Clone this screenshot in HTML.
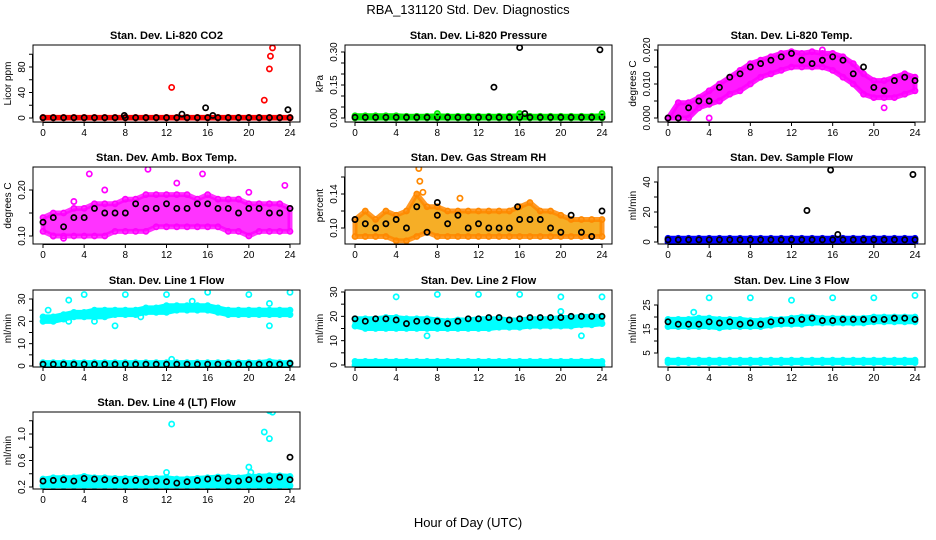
<!DOCTYPE html>
<html><head><meta charset="utf-8"><style>
html,body{margin:0;padding:0;background:#fff;}
svg{display:block;font-family:"Liberation Sans",sans-serif;}
</style></head><body>
<svg id="chart" width="936" height="540" viewBox="0 0 936 540">
<text x="468" y="14" text-anchor="middle" font-size="13">RBA_131120  Std. Dev. Diagnostics</text>
<text x="468" y="527" text-anchor="middle" font-size="13">Hour of Day (UTC)</text>
</svg>
<script>
// ---------- data ----------
const hours = [0,1,2,3,4,5,6,7,8,9,10,11,12,13,14,15,16,17,18,19,20,21,22,23,24];
const xTicks = [0,4,8,12,16,20,24];

// Panel 1: CO2
const co2RedLo = [0,0,0,0,0,0,0,0,0,0,0,0,0,0,0,0,0,0,0,0,0,0,0,0,0];
const co2RedHi = [1,1,1,1,1,1,1,1,1,1,1,1,1,1,1,1,1,1,1,1,1,1,1,1,1];
const co2Black = [0.5,0.5,0.5,0.5,0.5,0.5,0.5,0.5,0.5,0.5,0.5,0.5,0.5,0.5,0.5,0.5,0.5,0.5,0.5,0.5,0.5,0.5,0.5,0.5,0.5];
const co2RedOutX = [12.5,21.5,22,22.1,22.3];
const co2RedOutY = [48,28,77,97,110];
const co2BlkOutX = [7.9,13.5,15.8,16.5,23.8];
const co2BlkOutY = [4,6,16,4,13];

// Panel 2: pressure
const prGreenLo = [0,0,0,0,0,0,0,0,0,0,0,0,0,0,0,0,0,0,0,0,0,0,0,0,0];
const prGreenHi = [0.01,0.01,0.01,0.01,0.01,0.008,0.008,0.008,0.01,0.008,0.008,0.008,0.008,0.008,0.008,0.008,0.01,0.008,0.008,0.008,0.008,0.008,0.008,0.008,0.01];
const prBlack = [0.003,0.003,0.003,0.003,0.003,0.003,0.003,0.003,0.003,0.003,0.003,0.003,0.003,0.003,0.003,0.003,0.003,0.003,0.003,0.003,0.003,0.003,0.003,0.003,0.003];
const prGreenOutX = [8,16,24];
const prGreenOutY = [0.02,0.02,0.02];
const prBlkOutX = [13.5,16,16.5,23.8];
const prBlkOutY = [0.14,0.32,0.02,0.31];

// Panel 3: Li-820 temp
const tmpLo = [0,0,0,0.003,0.004,0.005,0.007,0.008,0.010,0.012,0.013,0.014,0.015,0.015,0.015,0.015,0.014,0.012,0.010,0.007,0.006,0.006,0.006,0.007,0.008];
const tmpHi = [0,0.0045,0.0045,0.006,0.008,0.010,0.012,0.014,0.016,0.017,0.018,0.019,0.0195,0.019,0.0195,0.019,0.019,0.018,0.016,0.013,0.011,0.011,0.012,0.013,0.012];
const tmpBlack = [0,0,0.003,0.005,0.005,0.009,0.012,0.013,0.015,0.016,0.017,0.018,0.019,0.017,0.016,0.017,0.018,0.017,0.013,0.015,0.009,0.008,0.011,0.012,0.011];
const tmpOutX = [4,5,21,15];
const tmpOutY = [0,0.005,0.003,0.020];

// Panel 4: amb box temp
const ambLo = [0.11,0.10,0.10,0.10,0.10,0.10,0.10,0.11,0.11,0.11,0.11,0.12,0.12,0.12,0.12,0.12,0.12,0.12,0.11,0.11,0.10,0.11,0.11,0.11,0.11];
const ambHi = [0.14,0.15,0.15,0.16,0.16,0.17,0.17,0.17,0.18,0.18,0.19,0.19,0.19,0.19,0.19,0.18,0.19,0.18,0.18,0.18,0.17,0.17,0.17,0.17,0.16];
const ambBlack = [0.13,0.14,0.12,0.14,0.14,0.16,0.15,0.15,0.15,0.17,0.16,0.16,0.17,0.16,0.16,0.17,0.17,0.16,0.16,0.15,0.16,0.16,0.15,0.15,0.16];
const ambOutX = [2,4.5,10.2,15.5,23.5,1,3,20,6,13];
const ambOutY = [0.095,0.235,0.245,0.235,0.21,0.10,0.175,0.195,0.2,0.215];

// Panel 5: gas stream RH
const rhLo = [0.09,0.09,0.09,0.09,0.085,0.085,0.09,0.095,0.09,0.09,0.09,0.09,0.09,0.09,0.09,0.09,0.09,0.09,0.09,0.09,0.09,0.09,0.09,0.09,0.09];
const rhHi = [0.11,0.12,0.11,0.12,0.115,0.12,0.14,0.125,0.125,0.12,0.12,0.12,0.12,0.12,0.12,0.12,0.125,0.13,0.12,0.12,0.115,0.11,0.11,0.11,0.11];
const rhBlack = [0.11,0.105,0.10,0.105,0.11,0.10,0.125,0.095,0.115,0.105,0.115,0.10,0.105,0.10,0.10,0.10,0.11,0.11,0.11,0.10,0.095,0.115,0.095,0.09,0.12];
const rhOutX = [6.2,6.3,6.6,10.2];
const rhOutY = [0.17,0.155,0.142,0.135];
const rhBlkOutX = [8,15.8];
const rhBlkOutY = [0.13,0.125];

// Panel 6: sample flow
const sfLo = [0,0,0,0,0,0,0,0,0,0,0,0,0,0,0,0,0,0,0,0,0,0,0,0,0];
const sfHi = [2.5,2.5,2.5,2.5,2.5,2.5,2.5,2.5,2.5,2.5,2.5,2.5,2.5,2.5,2.5,2.5,2.5,2.5,2.5,2.5,2.5,2.5,2.5,2.5,2.5];
const sfBlack = [1.5,1.5,1.5,1.5,1.5,1.5,1.5,1.5,1.5,1.5,1.5,1.5,1.5,1.5,1.5,1.5,1.5,1.5,1.5,1.5,1.5,1.5,1.5,1.5,1.5];
const sfBlkOutX = [13.5,15.8,16.5,23.8];
const sfBlkOutY = [21,48,5,45];

// Panel 7: line 1 flow
const l1Lo = [20,20,21,22,22,22,22,23,23,23,24,24,24,25,25,25,25,24,23,23,23,23,23,23,23];
const l1Hi = [22,22,23,24,24,25,25,25,25,25,26,26,27,27,27,27,27,26,25,25,25,25,25,25,25];
const l1LowLo = [0,0,0,0,0,0,0,0,0,0,0,0,0,0,0,0,0,0,0,0,0,0,0,0,0];
const l1LowHi = [1.5,1.5,1.5,1.5,1.5,1.5,1.5,1.5,1.5,1.5,1.5,1.5,1.5,1.5,1.5,1.5,1.5,1.5,1.5,1.5,1.5,1.5,2,1.5,1.5];
const l1Black = [0.8,0.8,0.8,0.8,0.8,0.8,0.8,0.8,0.8,0.8,0.8,0.8,0.8,0.8,0.8,0.8,0.8,0.8,0.8,0.8,0.8,0.8,0.8,0.8,1.2];
const l1OutX = [0.5,2.5,2.5,4,5,7,8,12,12.5,16,20,22,22,24,9.5,14.5];
const l1OutY = [25,29.5,20,32,20,18,32,32,3,33,32,28,18,33,22,29];

// Panel 8: line 2 flow
const l2Lo = [16,15,15,15,15,15,15,15,15,15,15,15,15,15,15.5,15.5,15.5,16,16,16,16,16,16.5,16.5,17];
const l2Hi = [19,19,19,19.5,19.5,19,19,19,18.5,18,18.5,18.5,19,19,19,18.5,18.5,19,19,19,19.5,19.5,20,20,20];
const l2LowLo = [0,0,0,0,0,0,0,0,0,0,0,0,0,0,0,0,0,0,0,0,0,0,0,0,0];
const l2LowHi = [1.5,1.5,1.5,1.5,1.5,1.5,1.5,1.5,1.5,1.5,1.5,1.5,1.5,1.5,1.5,1.5,1.5,1.5,1.5,1.5,1.5,1.5,1.5,1.5,1.5];
const l2Black = [19,18,19,19,18.5,17,18,18,18,17,18,19,19,19.5,19.5,18.5,19,19.5,19.5,19.5,19.5,20,20,20,20];
const l2OutX = [4,8,12,16,20,24,7,22,20];
const l2OutY = [28,29,29,29,28,28,12,12,22];

// Panel 9: line 3 flow
const l3Lo = [16,16,16,16,16,15.5,16,16,16,16,16.5,17,17,17,17.5,17.5,17.5,17.5,17.5,17.5,18,18,18,18,18];
const l3Hi = [19,19,19,19.5,19.5,19,19,19,18.5,18.5,19,19,19.5,20,20,19.5,19.5,19.5,19.5,19.5,20,20,20,20,20];
const l3LowLo = [1,1,1,1,1,1,1,1,1,1,1,1,1,1,1,1,1,1,1,1,1,1,1,1,1];
const l3LowHi = [2,2,2,2,2,2,2,2,2,2,2,2,2,2,2,2,2,2,2,2,2,2,2,2,2];
const l3Black = [18,17,17,17,18,17.5,18,17,17.5,17,18,18.5,18.5,19,19.5,18.5,18.5,19,19,19,19,19,19.5,19.5,19];
const l3OutX = [4,8,12,16,20,24,2.5];
const l3OutY = [28,28,27,28,28,29,22];

// Panel 10: line 4 (LT) flow
const l4Lo = [0.22,0.22,0.22,0.22,0.22,0.22,0.22,0.22,0.22,0.22,0.22,0.22,0.22,0.22,0.22,0.22,0.22,0.22,0.22,0.22,0.22,0.22,0.22,0.22,0.22];
const l4Hi = [0.32,0.34,0.34,0.34,0.36,0.34,0.34,0.33,0.33,0.33,0.33,0.33,0.34,0.32,0.32,0.33,0.34,0.35,0.35,0.34,0.36,0.36,0.37,0.37,0.36];
const l4Black = [0.29,0.3,0.31,0.29,0.33,0.32,0.31,0.3,0.29,0.3,0.28,0.29,0.28,0.26,0.28,0.3,0.32,0.33,0.29,0.29,0.31,0.32,0.3,0.35,0.31];
const l4OutX = [12.5,12,20,20.2,21.5,22,22.3,22];
const l4OutY = [1.15,0.42,0.5,0.42,1.03,1.35,1.33,0.93];
const l4BlkOutX = [24];
const l4BlkOutY = [0.65];

// ---------- drawing ----------
const svg = document.getElementById('chart');
const NS = 'http://www.w3.org/2000/svg';
function mk(tag, attrs, parent){
  const e = document.createElementNS(NS, tag);
  for (const k in attrs) e.setAttribute(k, attrs[k]);
  (parent||svg).appendChild(e);
  return e;
}

function panel(opts){
  const g = mk('g', {});
  
  
  const L = opts.bx, T = opts.by, W = 267, H = 77;
  const X0 = L + 10, X1 = L + 257;
  const xs = v => X0 + (v / 24) * (X1 - X0);
  const ys = v => opts.p0 + (v - opts.v0) * (opts.p1 - opts.p0) / (opts.v1 - opts.v0);
  const clip = 'clip-' + opts.name;
  const cp = mk('clipPath', {id: clip}, g);
  mk('rect', {x: L, y: T, width: W, height: H}, cp);
  const plot = mk('g', {'clip-path': 'url(#' + clip + ')'}, g);
  
  

  (opts.bands||[]).forEach(b => {
    let pts = hours.map((h,i) => xs(h) + ',' + ys(b.hi[i]));
    pts = pts.concat(hours.slice().reverse().map((h,j) => { const i = hours.length-1-j; return xs(h) + ',' + ys(b.lo[i]); }));
    const p = mk('polygon', {points: pts.join(' '), fill: b.fill, 'fill-opacity': b.op||1, stroke: b.color, 'stroke-width': 5, 'stroke-opacity': b.op||1, 'stroke-linejoin': 'round'}, plot);
    
    
    hours.forEach((h,i) => {
      [b.lo[i], b.hi[i]].forEach(v => {
        const c = mk('circle', {cx: xs(h), cy: ys(v), r: 2.6, fill: 'none', stroke: b.color, 'stroke-width': 1.6}, plot);
        
        
      });
    });
  });
  (opts.points||[]).forEach(s => {
    s.x.forEach((xv,i) => {
      const c = mk('circle', {cx: xs(xv), cy: ys(s.y[i]), r: 2.6, fill: 'none', stroke: s.color, 'stroke-width': 1.7}, plot);
      
      
    });
  });

  const box = mk('rect', {x: L, y: T, width: W, height: H, fill: 'none', stroke: '#000', 'stroke-width': 1}, g);
  
  
  const t = mk('text', {x: L + W/2, y: T - 6, 'text-anchor': 'middle', 'font-size': 11, 'font-weight': 'bold'}, g);
  t.textContent = opts.title;
  
  
  const xa = mk('g', {}, g);
  
  
  mk('line', {x1: xs(0), x2: xs(24), y1: T+H+0.5, y2: T+H+0.5, stroke: '#000'}, xa);
  xTicks.forEach(v => {
    mk('line', {x1: xs(v), x2: xs(v), y1: T+H, y2: T+H+4, stroke: '#000'}, xa);
    const tl = mk('text', {x: xs(v), y: T+H+14, 'text-anchor': 'middle', 'font-size': 10}, xa);
    tl.textContent = v;
    
    
  });
  const ya = mk('g', {}, g);
  
  
  const yt = opts.yTicks;
  mk('line', {x1: L-0.5, x2: L-0.5, y1: ys(yt[0]), y2: ys(yt[yt.length-1]), stroke: '#000'}, ya);
  yt.forEach(v => {
    mk('line', {x1: L-4, x2: L, y1: ys(v), y2: ys(v), stroke: '#000'}, ya);
  });
  opts.yLabels.forEach(lbl => {
    const yy = ys(parseFloat(lbl));
    const tl = mk('text', {x: L-8, y: yy, 'text-anchor': 'middle', 'font-size': 10, transform: 'rotate(-90 ' + (L-8) + ' ' + yy + ')'}, ya);
    tl.textContent = lbl;
    
    
  });
  const ytx = L - 22, yty = T + H/2;
  const ytt = mk('text', {x: ytx, y: yty, 'text-anchor': 'middle', 'font-size': 10, transform: 'rotate(-90 ' + ytx + ' ' + yty + ')'}, g);
  ytt.textContent = opts.ytitle;
  
  
}

const C = [33, 345, 658];
const R = [45, 167, 290, 412];
const RED='#ff0000', BLK='#000000', MAG='#ff00ff', GRN='#00ee00', BLU='#0000ff', CYN='#00ffff', ORG='#ff8800';

panel({name:'panel-co2', title:'Stan. Dev. Li-820 CO2', ytitle:'Licor ppm', bx:C[0], by:R[0], v0:0, p0:118, v1:80, p1:67,
  yTicks:[0,20,40,60,80,100], yLabels:['0','40','80'],
  bands:[{lo:co2RedLo, hi:co2RedHi, color:RED, fill:RED}],
  points:[{x:hours,y:co2Black,color:BLK},{x:co2RedOutX,y:co2RedOutY,color:RED},{x:co2BlkOutX,y:co2BlkOutY,color:BLK}]});

panel({name:'panel-pressure', title:'Stan. Dev. Li-820 Pressure', ytitle:'kPa', bx:C[1], by:R[0], v0:0, p0:118, v1:0.30, p1:52,
  yTicks:[0,0.05,0.10,0.15,0.20,0.25,0.30], yLabels:['0.00','0.15','0.30'],
  bands:[{lo:prGreenLo, hi:prGreenHi, color:GRN, fill:GRN}],
  points:[{x:hours,y:prBlack,color:BLK},{x:prGreenOutX,y:prGreenOutY,color:GRN},{x:prBlkOutX,y:prBlkOutY,color:BLK}]});

panel({name:'panel-li820-temp', title:'Stan. Dev. Li-820 Temp.', ytitle:'degrees C', bx:C[2], by:R[0], v0:0, p0:118, v1:0.020, p1:50,
  yTicks:[0,0.005,0.010,0.015,0.020], yLabels:['0.000','0.010','0.020'],
  bands:[{lo:tmpLo, hi:tmpHi, color:MAG, fill:MAG, op:0.9}],
  points:[{x:tmpOutX,y:tmpOutY,color:MAG},{x:hours,y:tmpBlack,color:BLK}]});

panel({name:'panel-amb-box-temp', title:'Stan. Dev. Amb. Box Temp.', ytitle:'degrees C', bx:C[0], by:R[1], v0:0.10, p0:236, v1:0.20, p1:190,
  yTicks:[0.10,0.15,0.20], yLabels:['0.10','0.20'],
  bands:[{lo:ambLo, hi:ambHi, color:MAG, fill:MAG, op:0.8}],
  points:[{x:ambOutX,y:ambOutY,color:MAG},{x:hours,y:ambBlack,color:BLK}]});

panel({name:'panel-gas-stream-rh', title:'Stan. Dev. Gas Stream RH', ytitle:'percent', bx:C[1], by:R[1], v0:0.10, p0:228, v1:0.14, p1:194,
  yTicks:[0.10,0.12,0.14,0.16], yLabels:['0.10','0.14'],
  bands:[{lo:rhLo, hi:rhHi, color:ORG, fill:'#f5a000', op:0.85}],
  points:[{x:rhOutX,y:rhOutY,color:ORG},{x:hours,y:rhBlack,color:BLK},{x:rhBlkOutX,y:rhBlkOutY,color:BLK}]});

panel({name:'panel-sample-flow', title:'Stan. Dev. Sample Flow', ytitle:'ml/min', bx:C[2], by:R[1], v0:0, p0:242, v1:40, p1:182,
  yTicks:[0,10,20,30,40], yLabels:['0','20','40'],
  bands:[{lo:sfLo, hi:sfHi, color:BLU, fill:BLU}],
  points:[{x:hours,y:sfBlack,color:BLK},{x:sfBlkOutX,y:sfBlkOutY,color:BLK}]});

panel({name:'panel-line1-flow', title:'Stan. Dev. Line 1 Flow', ytitle:'ml/min', bx:C[0], by:R[2], v0:0, p0:366, v1:30, p1:299,
  yTicks:[0,5,10,15,20,25,30], yLabels:['0','10','20','30'],
  bands:[{lo:l1Lo, hi:l1Hi, color:CYN, fill:CYN},{lo:l1LowLo, hi:l1LowHi, color:CYN, fill:CYN}],
  points:[{x:l1OutX,y:l1OutY,color:CYN},{x:hours,y:l1Black,color:BLK}]});

panel({name:'panel-line2-flow', title:'Stan. Dev. Line 2 Flow', ytitle:'ml/min', bx:C[1], by:R[2], v0:0, p0:365, v1:30, p1:292,
  yTicks:[0,5,10,15,20,25,30], yLabels:['0','10','20','30'],
  bands:[{lo:l2Lo, hi:l2Hi, color:CYN, fill:CYN},{lo:l2LowLo, hi:l2LowHi, color:CYN, fill:CYN}],
  points:[{x:l2OutX,y:l2OutY,color:CYN},{x:hours,y:l2Black,color:BLK}]});

panel({name:'panel-line3-flow', title:'Stan. Dev. Line 3 Flow', ytitle:'ml/min', bx:C[2], by:R[2], v0:5, p0:353, v1:25, p1:305,
  yTicks:[5,10,15,20,25], yLabels:['5','15','25'],
  bands:[{lo:l3Lo, hi:l3Hi, color:CYN, fill:CYN},{lo:l3LowLo, hi:l3LowHi, color:CYN, fill:CYN}],
  points:[{x:l3OutX,y:l3OutY,color:CYN},{x:hours,y:l3Black,color:BLK}]});

panel({name:'panel-line4-lt-flow', title:'Stan. Dev. Line 4 (LT) Flow', ytitle:'ml/min', bx:C[0], by:R[3], v0:0.2, p0:487, v1:1.0, p1:434,
  yTicks:[0.2,0.4,0.6,0.8,1.0,1.2], yLabels:['0.2','0.6','1.0'],
  bands:[{lo:l4Lo, hi:l4Hi, color:CYN, fill:CYN}],
  points:[{x:l4OutX,y:l4OutY,color:CYN},{x:hours,y:l4Black,color:BLK},{x:l4BlkOutX,y:l4BlkOutY,color:BLK}]});
</script>
</body></html>
